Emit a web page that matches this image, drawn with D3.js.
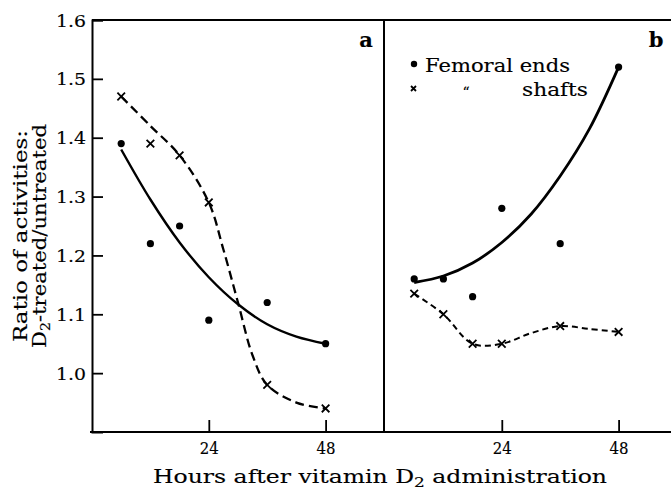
<!DOCTYPE html>
<html>
<head>
<meta charset="utf-8">
<script src="https://cdn.jsdelivr.net/npm/d3@7"></script>
<style>
  body { margin: 0; background: #fff; }
  svg { display: block; font-family: "DejaVu Serif", serif; }
  text { fill: #000; stroke: #000; stroke-width: 0.15px; }
</style>
</head>
<body>
<div id="chart"></div>
<script>
// measured points (hours after dose, ratio treated/untreated)
const hours = [6, 12, 18, 24, 36, 48];
const aEnds = [1.39, 1.22, 1.25, 1.09, 1.12, 1.05];
const aShafts = [1.47, 1.39, 1.37, 1.29, 0.98, 0.94];
const bEnds = [1.16, 1.16, 1.13, 1.28, 1.22, 1.52];
const bShafts = [1.135, 1.10, 1.05, 1.05, 1.08, 1.07];

// hand-drawn fitted curves
const fitHours = [6, 12, 18, 24, 30, 36, 42, 48];
const aEndsFit = [1.38, 1.295, 1.222, 1.163, 1.117, 1.083, 1.062, 1.05];
const bEndsFit = [1.154, 1.165, 1.187, 1.222, 1.27, 1.335, 1.415, 1.52];
const bShaftsFit = [1.135, 1.10, 1.05, 1.05, 1.068, 1.08, 1.075, 1.07];
const aShaftsFitHours = [6, 12, 18, 24, 27, 30, 33, 36, 42, 48];
const aShaftsFit = [1.47, 1.42, 1.37, 1.29, 1.21, 1.12, 1.03, 0.98, 0.95, 0.94];

const yTicks = [1.0, 1.1, 1.2, 1.3, 1.4, 1.5, 1.6];
const xTicks = [24, 48];

const width = 671, height = 489;
const plotTop = 20, plotBottom = 432, plotLeft = 92, divX = 384;

const svg = d3.select("#chart").append("svg").attr("width", width).attr("height", height);

const y = d3.scaleLinear().domain([0.9, 1.6]).range([plotBottom, plotTop]);
const xa = d3.scaleLinear().domain([0, 60]).range([plotLeft, divX]);
const xb = d3.scaleLinear().domain([0, 60]).range([divX + 1, divX + 293]);

// frame
svg.append("line").attr("x1", plotLeft).attr("x2", width).attr("y1", plotTop).attr("y2", plotTop)
  .attr("stroke", "#000").attr("stroke-width", 2);
svg.append("line").attr("x1", divX).attr("x2", divX).attr("y1", plotTop).attr("y2", plotBottom)
  .attr("stroke", "#000").attr("stroke-width", 2);
svg.append("line").attr("x1", plotLeft - 2).attr("x2", width).attr("y1", plotBottom).attr("y2", plotBottom)
  .attr("stroke", "#000").attr("stroke-width", 2);

// y axis
const yAxis = svg.append("g").attr("transform", `translate(${plotLeft},0)`)
  .call(d3.axisLeft(y).tickValues(yTicks).tickFormat(d3.format(".1f")).tickSize(-11).tickPadding(6));
yAxis.select(".domain").attr("stroke-width", 2);
yAxis.selectAll(".tick line").attr("stroke-width", 1.8);
yAxis.selectAll("text").attr("font-size", 17).attr("font-family", "DejaVu Serif")
  .attr("textLength", 30).attr("lengthAdjust", "spacingAndGlyphs").attr("dy", "0.36em");

// x axes, one per panel
[xa, xb].forEach(x => {
  const g = svg.append("g").attr("transform", `translate(0,${plotBottom})`)
    .call(d3.axisBottom(x).tickValues(xTicks).tickSize(-12).tickPadding(10));
  g.select(".domain").remove();
  g.selectAll(".tick line").attr("stroke-width", 1.8);
  g.selectAll("text").attr("font-size", 17).attr("font-family", "DejaVu Serif")
    .attr("textLength", 19).attr("lengthAdjust", "spacingAndGlyphs");
});

const line = (x) => d3.line().x(d => x(d[0])).y(d => y(d[1])).curve(d3.curveCatmullRom.alpha(0.5));

function drawFit(x, hs, vs, dash, w) {
  svg.append("path").datum(d3.zip(hs, vs))
    .attr("d", line(x))
    .attr("fill", "none").attr("stroke", "#000").attr("stroke-width", w)
    .attr("stroke-dasharray", dash);
}
drawFit(xa, fitHours, aEndsFit, null, 2.4);
drawFit(xa, aShaftsFitHours, aShaftsFit, "9,5", 2.3);
drawFit(xb, fitHours, bEndsFit, null, 2.8);
drawFit(xb, fitHours, bShaftsFit, "6,4", 2);

function dots(x, vs) {
  svg.append("g").selectAll("circle").data(d3.zip(hours, vs)).join("circle")
    .attr("cx", d => x(d[0])).attr("cy", d => y(d[1])).attr("r", 3.6).attr("fill", "#000");
}
function crosses(x, vs) {
  const s = 3.8;
  svg.append("g").selectAll("path").data(d3.zip(hours, vs)).join("path")
    .attr("d", d => {
      const cx = x(d[0]), cy = y(d[1]);
      return `M${cx - s},${cy - s}L${cx + s},${cy + s}M${cx - s},${cy + s}L${cx + s},${cy - s}`;
    })
    .attr("stroke", "#000").attr("stroke-width", 1.8);
}
dots(xa, aEnds); crosses(xa, aShafts);
dots(xb, bEnds); crosses(xb, bShafts);

// panel letters
svg.append("text").attr("x", 366).attr("y", 47).attr("text-anchor", "middle")
  .attr("font-size", 21).attr("font-weight", "bold").text("a");
svg.append("text").attr("x", 656).attr("y", 47).attr("text-anchor", "middle")
  .attr("font-size", 21).attr("font-weight", "bold").text("b");

// legend
svg.append("circle").attr("cx", 414).attr("cy", 64).attr("r", 3.2).attr("fill", "#000");
svg.append("text").attr("x", 425).attr("y", 72).attr("font-size", 18)
  .attr("textLength", 145).attr("lengthAdjust", "spacingAndGlyphs").text("Femoral ends");
svg.append("path").attr("d", "M411,86L416,91M411,91L416,86").attr("stroke", "#000").attr("stroke-width", 1.8);
svg.append("text").attr("x", 466).attr("y", 97).attr("text-anchor", "middle").attr("font-size", 14).text("\u201C");
svg.append("text").attr("x", 522).attr("y", 96).attr("font-size", 18)
  .attr("textLength", 66).attr("lengthAdjust", "spacingAndGlyphs").text("shafts");

// y label
const yl = svg.append("g").attr("transform", "translate(0,236) rotate(-90)");
yl.append("text").attr("x", 0).attr("y", 27).attr("text-anchor", "middle").attr("font-size", 18)
  .attr("textLength", 212).attr("lengthAdjust", "spacingAndGlyphs").text("Ratio of activities:");
const t2 = yl.append("text").attr("x", 0).attr("y", 46).attr("text-anchor", "middle").attr("font-size", 18)
  .attr("textLength", 224).attr("lengthAdjust", "spacingAndGlyphs");
t2.append("tspan").text("D");
t2.append("tspan").attr("font-size", 12).attr("dy", 4).text("2");
t2.append("tspan").attr("dy", -4).text("-treated/untreated");

// x label
const xl = svg.append("text").attr("x", 380).attr("y", 483).attr("text-anchor", "middle")
  .attr("font-size", 18).attr("textLength", 454).attr("lengthAdjust", "spacingAndGlyphs");
xl.append("tspan").text("Hours after vitamin D");
xl.append("tspan").attr("font-size", 13).attr("dy", 4).text("2");
xl.append("tspan").attr("dy", -4).text(" administration");
</script>
</body>
</html>
